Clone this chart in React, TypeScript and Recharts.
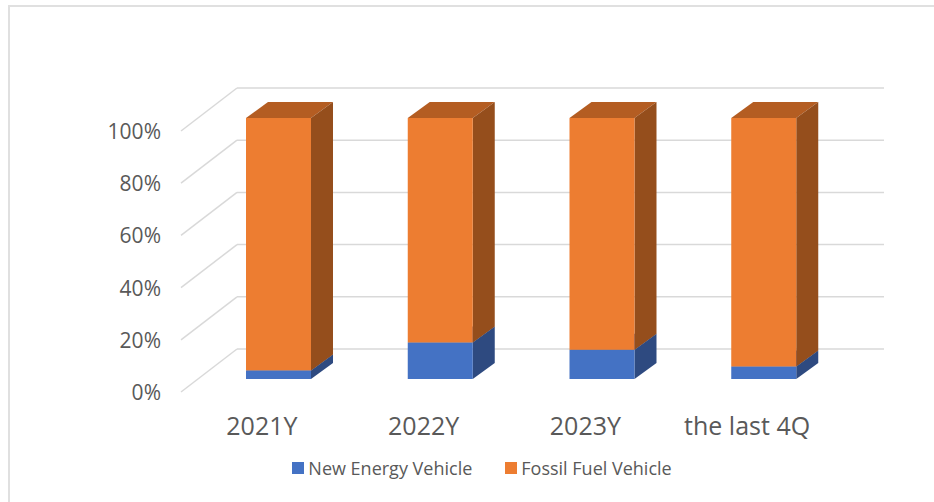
import { BarChart, Bar, XAxis, YAxis, CartesianGrid, Legend } from "recharts";

// categories and shares (%)
const periods = ["2021Y", "2022Y", "2023Y", "the last 4Q"];
const newEnergy = [3.3, 14.0, 11.2, 4.8];
const fossilFuel = [96.7, 86.0, 88.8, 95.2];
const percentTicks = [0, 20, 40, 60, 80, 100];
const seriesNames = ["New Energy Vehicle", "Fossil Fuel Vehicle"];

const chartData = periods.map((p, i) => ({
    period: p,
    nev: newEnergy[i],
    fossil: fossilFuel[i],
}));

// 3d look: bar depth and where the back wall / front plane sit
const DX = 22;
const DY = 16;
const FRONT_DX = -17;
const FRONT_DY = 13;
const BACK_DX = 39;
const BACK_DY = -30;
const GRID = "#d9d9d9";
const TEXT = "#595959";

const shades: Record<string, { top: string; side: string }> = {
    "#ED7D31": { top: "#B45D22", side: "#954E1C" },
    "#4472C4": { top: "#3A62A8", side: "#2E4A80" },
};

function Box3D(props: any) {
    const { x, y, width, height, fill } = props;
    if (!height || height <= 0) return null;
    const s = shades[fill];
    const r = x + width;
    const b = y + height;
    return (
        <g>
            <polygon points={`${x},${y} ${x + DX},${y - DY} ${r + DX},${y - DY} ${r},${y}`} fill={s.top} />
            <polygon points={`${r},${y} ${r + DX},${y - DY} ${r + DX},${b - DY} ${r},${b}`} fill={s.side} />
            <rect x={x} y={y} width={width} height={height} fill={fill} />
        </g>
    );
}

function GridLine(props: any) {
    const { x1, x2, y1, index } = props;
    return (
        <g key={`grid-${index}`}>
            <line x1={x1 + FRONT_DX} y1={y1 + FRONT_DY} x2={x1 + BACK_DX} y2={y1 + BACK_DY} stroke={GRID} strokeWidth={1.5} />
            <line x1={x1 + BACK_DX} y1={y1 + BACK_DY} x2={x2 + BACK_DX} y2={y1 + BACK_DY} stroke={GRID} strokeWidth={1.5} />
        </g>
    );
}

function YTick(props: any) {
    const { x, y, payload } = props;
    return (
        <text x={x - 29} y={y + FRONT_DY} textAnchor="end" dominantBaseline="central" fill={TEXT} fontSize={21}>
            {payload.value}%
        </text>
    );
}

function XTick(props: any) {
    const { x, y, payload } = props;
    return (
        <text x={x + FRONT_DX} y={y + 38} textAnchor="middle" dominantBaseline="central" fill={TEXT} fontSize={25}>
            {payload.value}
        </text>
    );
}

function LegendBox(props: any) {
    const items = [...(props.payload || [])].sort(
        (a: any, b: any) => seriesNames.indexOf(a.value) - seriesNames.indexOf(b.value)
    );
    return (
        <div style={{ display: "flex", justifyContent: "center", gap: 33, height: 24, alignItems: "center", paddingLeft: 30 }}>
            {items.map((it: any) => (
                <div key={it.value} style={{ display: "flex", alignItems: "center", gap: 4 }}>
                    <span style={{ width: 12, height: 12, background: it.color, display: "inline-block" }} />
                    <span style={{ color: TEXT, fontSize: 18 }}>{it.value}</span>
                </div>
            ))}
        </div>
    );
}

function App() {
    return (
        <div style={{ position: "absolute", top: 0, left: 0, width: 934, height: 502, background: "#fff", fontFamily: "'Open Sans', sans-serif" }}>
            <div style={{ position: "absolute", left: 8, top: 5, width: 930, height: 500, borderLeft: "2px solid #e0e0e0", borderTop: "2px solid #e0e0e0" }} />
            <BarChart
                width={934}
                height={502}
                data={chartData}
                barSize={65}
                margin={{ top: 118, right: 89, left: 138, bottom: 59 }}
            >
                <CartesianGrid vertical={false} horizontal={(p: any) => <GridLine {...p} />} />
                <XAxis dataKey="period" axisLine={false} tickLine={false} height={40} tick={<XTick />} interval={0} />
                <YAxis width={60} domain={[0, 100]} ticks={percentTicks} axisLine={false} tickLine={false} tick={<YTick />} />
                <Legend verticalAlign="bottom" content={<LegendBox />} wrapperStyle={{ top: 456, bottom: "auto", left: 0, width: 934 }} />
                <Bar dataKey="nev" name={seriesNames[0]} stackId="a" fill="#4472C4" shape={<Box3D />} isAnimationActive={false} />
                <Bar dataKey="fossil" name={seriesNames[1]} stackId="a" fill="#ED7D31" shape={<Box3D />} isAnimationActive={false} />
            </BarChart>
        </div>
    );
}

export default App;
